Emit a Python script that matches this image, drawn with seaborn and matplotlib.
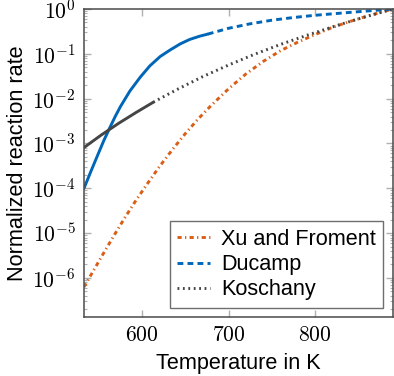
import numpy as np
import pandas as pd
import matplotlib
matplotlib.use("Agg")
import matplotlib.pyplot as plt
import seaborn as sns
from matplotlib.ticker import FixedLocator, FixedFormatter, LogLocator, NullFormatter
from matplotlib.lines import Line2D

# ── data (temperature in K, log10 of normalized rate) ──
xu_T = [533, 545, 557, 569, 581, 593, 605, 620, 635, 650, 665, 680, 700,
        720, 740, 760, 780, 800, 820, 840, 860, 875, 890]
xu_log = [-6.20, -5.80, -5.40, -5.01, -4.63, -4.27, -3.93, -3.52, -3.14,
          -2.78, -2.45, -2.15, -1.78, -1.45, -1.17, -0.93, -0.74, -0.57,
          -0.41, -0.28, -0.16, -0.08, 0.0]

ducamp_solid_T = [533, 541, 549, 556, 563, 569, 575, 586, 598, 609, 621,
                  632, 644, 655, 666, 676]
ducamp_solid_log = [-4.00, -3.62, -3.25, -2.93, -2.64, -2.40, -2.18, -1.83,
                    -1.52, -1.27, -1.06, -0.92, -0.78, -0.68, -0.61, -0.56]
ducamp_dash_T = [676, 700, 725, 750, 775, 800, 825, 850, 870, 890]
ducamp_dash_log = [-0.56, -0.43, -0.33, -0.25, -0.19, -0.14, -0.10, -0.06,
                   -0.03, 0.0]

kosch_solid_T = [533, 553, 573, 593, 613]
kosch_solid_log = [-3.09, -2.81, -2.55, -2.31, -2.08]
kosch_dot_T = [613, 640, 670, 700, 730, 760, 790, 820, 850, 870, 890]
kosch_dot_log = [-2.08, -1.80, -1.51, -1.25, -1.01, -0.79, -0.59, -0.40,
                 -0.22, -0.11, 0.0]

x_ticks = [600, 700, 800]
y_exps = [0, -1, -2, -3, -4, -5, -6]

C_XU = "#D95F18"
C_DU = "#0066B8"
C_KO = "#454545"

sns.set_theme(style="ticks")
plt.rcParams["font.family"] = ["Liberation Sans", "DejaVu Sans"]
plt.rcParams["mathtext.fontset"] = "cm"
plt.rcParams["lines.scale_dashes"] = False
plt.rcParams["text.color"] = "black"
plt.rcParams["axes.labelcolor"] = "black"

FS = 15.6

fig = plt.figure(figsize=(3.94, 3.76), dpi=100)
ax = fig.add_axes([84 / 394, 1 - 317 / 376, 309 / 394, 308 / 376])

LW = 2.1
DASHDOT = (0, (3.0, 2.4, 0.9, 2.4))
DASHED = (0, (4.2, 3.0))
DOTTED = (0, (1.3, 2.6))


def draw(T, logs, **kw):
    df = pd.DataFrame({"T": T, "rate": 10.0 ** np.array(logs)})
    sns.lineplot(data=df, x="T", y="rate", ax=ax, linewidth=LW,
                 estimator=None, sort=False, **kw)


draw(xu_T, xu_log, color=C_XU, linestyle=DASHDOT)
draw(ducamp_solid_T, ducamp_solid_log, color=C_DU, linestyle="-")
draw(ducamp_dash_T, ducamp_dash_log, color=C_DU, linestyle=DASHED)
draw(kosch_solid_T, kosch_solid_log, color=C_KO, linestyle="-")
draw(kosch_dot_T, kosch_dot_log, color=C_KO, linestyle=DOTTED)

ax.set_yscale("log")
ax.set_xlim(533, 890)
ax.set_ylim(10 ** -6.87, 1.0)

ax.xaxis.set_major_locator(FixedLocator(x_ticks))
ax.xaxis.set_major_formatter(FixedFormatter([f"${t}$" for t in x_ticks]))
ax.xaxis.set_minor_locator(FixedLocator([]))
ax.yaxis.set_major_locator(FixedLocator([10.0 ** e for e in y_exps]))
ax.yaxis.set_major_formatter(FixedFormatter([f"$10^{{{e}}}$" for e in y_exps]))
ax.yaxis.set_minor_locator(LogLocator(base=10, subs=np.arange(2, 10), numticks=50))
ax.yaxis.set_minor_formatter(NullFormatter())

ax.tick_params(which="both", direction="in", top=True, right=True,
               color="#b0b0b0", labelsize=FS, labelcolor="black")
ax.tick_params(which="major", length=5, width=1.0, pad=6)
ax.tick_params(which="minor", length=2.5, width=0.8)

for sp in ax.spines.values():
    sp.set_color("#4a4a4a")
    sp.set_linewidth(1.1)

ax.set_xlabel("Temperature in K", fontsize=FS, labelpad=5)
ax.set_ylabel("Normalized reaction rate", fontsize=FS, labelpad=3)

handles = [
    Line2D([], [], color=C_XU, lw=LW, linestyle=DASHDOT),
    Line2D([], [], color=C_DU, lw=LW, linestyle=DASHED),
    Line2D([], [], color=C_KO, lw=LW, linestyle=DOTTED),
]
leg = ax.legend(handles, ["Xu and Froment", "Ducamp", "Koschany"],
                loc="lower right", bbox_to_anchor=(0.968, 0.029),
                borderaxespad=0, fontsize=FS, frameon=True, fancybox=False,
                handlelength=1.5, handletextpad=0.5, labelspacing=0.2,
                borderpad=0.35)
leg.get_frame().set_edgecolor("#4a4a4a")
leg.get_frame().set_linewidth(1.0)

fig.savefig("out.png", dpi=100)
